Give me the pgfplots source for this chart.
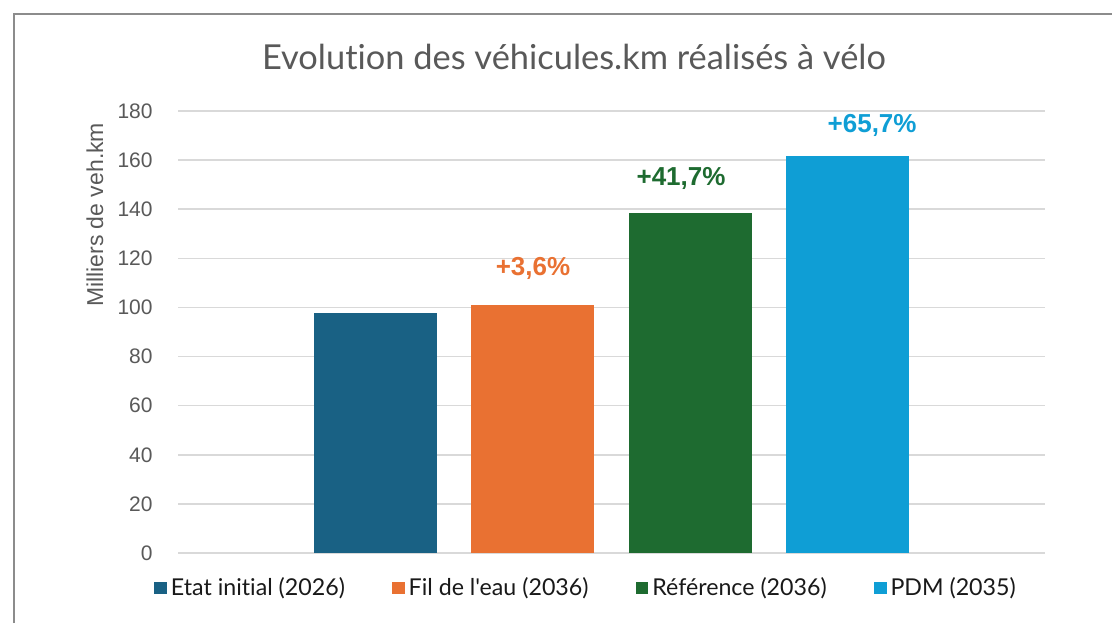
\documentclass[border=0pt]{standalone}
\usepackage{pgfplots}
\pgfplotsset{compat=1.18}
\usepackage{fontspec}
\setmainfont{Liberation Sans}
\newfontfamily\latofont{Lato}[Ligatures={NoCommon,NoRare}]

\definecolor{cEtat}{HTML}{196184}
\definecolor{cFil}{HTML}{E97132}
\definecolor{cRef}{HTML}{1E6B30}
\definecolor{cPdm}{HTML}{0F9ED5}
\definecolor{gridgray}{HTML}{D9D9D9}
\definecolor{txtgray}{HTML}{595959}
\definecolor{framegray}{HTML}{8C8C8C}

\begin{document}
\begin{tikzpicture}
\path[use as bounding box] (0pt,0pt) rectangle (556pt,-311.5pt);
\draw[framegray, line width=1pt] (7pt,-311.5pt) -- (7pt,-7pt) -- (556pt,-7pt);
\node[font=\latofont\fontsize{17.2}{20}\selectfont, text=txtgray] at (287pt,-28.5pt)
  {Evolution des véhicules.km réalisés à vélo};

\begin{axis}[
  at={(89pt,-276.5pt)}, anchor=south west,
  scale only axis, width=433.5pt, height=221pt,
  xmin=-1.26, xmax=4.26, ymin=0, ymax=180,
  ytick={0,20,...,180}, xtick=\empty,
  axis line style={draw=none}, major tick length=0pt,
  ymajorgrids, grid style={draw=gridgray, line width=0.8pt},
  /pgf/number format/assume math mode=true,
  yticklabel style={font=\fontsize{10.5}{12}\selectfont, text=txtgray, inner sep=0pt, xshift=-12.5pt},
  ylabel={Milliers de veh.km},
  ylabel style={at={(rel axis cs:-0.0957,0.765)}, anchor=center,
    font=\fontsize{11.5}{13}\selectfont, text=txtgray},
  ybar, bar width=61.5pt,
  legend columns=4,
  legend cell align=left,
  legend style={at={(0.4717,-0.0792)}, anchor=center, draw=none, fill=none,
    font=\latofont\fontsize{11.6}{13}\selectfont, text=black!90,
    /tikz/every even column/.append style={column sep=21.5pt}},
  legend image code/.code={\fill[#1] (0pt,-3.2pt) rectangle (6.4pt,3.2pt);},
  every node near coord/.append style={font=\bfseries\fontsize{13}{15}\selectfont, inner sep=0pt},
]
\addplot[fill=cEtat, draw=none, bar shift=0pt] coordinates {(0,97.6)};
\addlegendentry{Etat initial (2026)}
\addplot[fill=cFil, draw=none, bar shift=0pt, nodes near coords={+3,6\%},
  every node near coord/.append style={text=cFil, yshift=12.5pt}] coordinates {(1,101.1)};
\addlegendentry{Fil de l'eau (2036)}
\addplot[fill=cRef, draw=none, bar shift=0pt, nodes near coords={+41,7\%},
  every node near coord/.append style={text=cRef, yshift=11.5pt, xshift=-4.5pt}] coordinates {(2,138.5)};
\addlegendentry{Référence (2036)}
\addplot[fill=cPdm, draw=none, bar shift=0pt, nodes near coords={+65,7\%},
  every node near coord/.append style={text=cPdm, yshift=9.5pt, xshift=12.5pt}] coordinates {(3,161.8)};
\addlegendentry{PDM (2035)}
\end{axis}
\end{tikzpicture}
\end{document}
